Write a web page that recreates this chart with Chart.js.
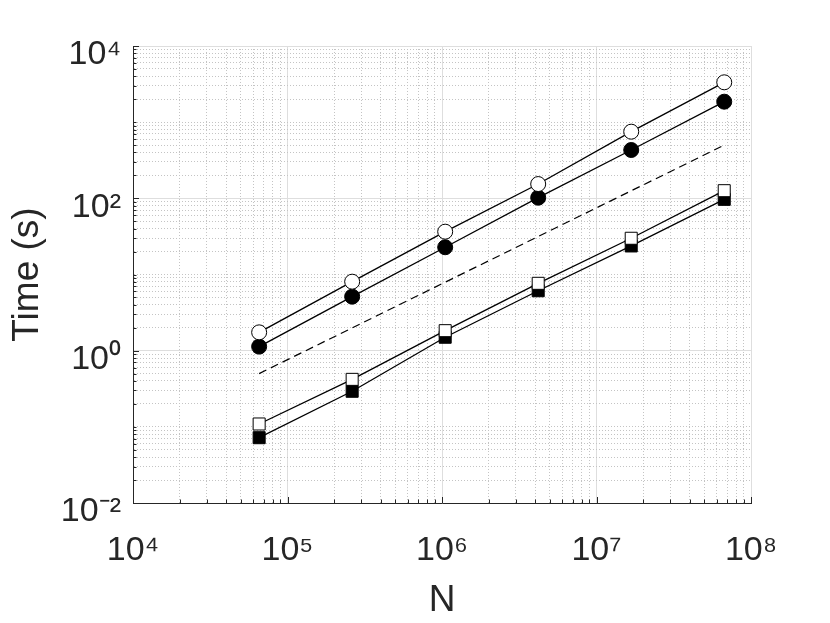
<!DOCTYPE html>
<html>
<head>
<meta charset="utf-8">
<script src="https://cdn.jsdelivr.net/npm/chart.js@4/dist/chart.umd.min.js"></script>
<style>
  html, body { margin: 0; padding: 0; background: #ffffff; }
  #wrap { width: 830px; height: 623px; position: relative; }
</style>
</head>
<body>
<div id="wrap"><canvas id="c"></canvas></div>
<script>
// ---- data ----
const N = [65536, 262144, 1048576, 4194304, 16777216, 67108864];
const openCircle   = [1.74, 8.05, 36.5, 154, 750, 3337];
const filledCircle = [1.13, 5.12, 22.8, 102, 431, 1857];
const openSquare   = [0.109, 0.42, 1.83, 7.66, 29.9, 126];
const filledSquare = [0.072, 0.293, 1.50, 6.12, 23.7, 97];
const refLineN = [65536, 67108864];
const refLineT = [0.5, 500];

// ---- axes / ticks ----
const xDecades = [4, 5, 6, 7, 8];
const yDecades = [-2, -1, 0, 1, 2, 3, 4];
const xMajorExp = [4, 5, 6, 7, 8];
const yMajorExp = [-2, 0, 2, 4];
const xTickLabels = ['10⁴', '10⁵', '10⁶', '10⁷', '10⁸'];
const yTickLabels = ['10⁻²', '10⁰', '10²', '10⁴'];
const minorMult = [2, 3, 4, 5, 6, 7, 8, 9];
const xTitle = 'N';
const yTitle = 'Time (s)';

const FONT = "'Liberation Sans', Arial, Helvetica, sans-serif";
const INK = '#262626';

function expOf(v) {
  const l = Math.log10(v);
  const r = Math.round(l);
  return Math.abs(l - r) < 1e-9 ? r : null;
}
function buildTickValues(decades) {
  const out = [];
  for (let i = 0; i < decades.length; i++) {
    const base = Math.pow(10, decades[i]);
    out.push(base);
    if (i < decades.length - 1) minorMult.forEach(m => out.push(m * base));
  }
  return out.sort((a, b) => a - b);
}
function isMajor(v, majors) {
  const e = expOf(v);
  return e !== null && majors.indexOf(e) >= 0;
}

function pts(xs, ys) { return xs.map((x, i) => ({ x: x, y: ys[i] })); }

const innerTicks = {
  id: 'innerTicks',
  afterDraw(chart) {
    const ctx = chart.ctx;
    const xs = chart.scales.x, ys = chart.scales.y;
    const area = chart.chartArea;
    ctx.save();
    ctx.strokeStyle = INK;
    ctx.lineWidth = 1;
    ctx.beginPath();
    xs.ticks.forEach(t => {
      const p = Math.round(xs.getPixelForValue(t.value)) + 0.5;
      const len = isMajor(t.value, xMajorExp) ? 6 : 3.5;
      ctx.moveTo(p, area.bottom);
      ctx.lineTo(p, area.bottom - len);
    });
    ys.ticks.forEach(t => {
      const p = Math.round(ys.getPixelForValue(t.value)) + 0.5;
      const len = isMajor(t.value, yMajorExp) ? 6 : 3.5;
      ctx.moveTo(area.left, p);
      ctx.lineTo(area.left + len, p);
    });
    ctx.stroke();
    ctx.restore();
  }
};

function gridColor(majors) {
  return c => (c.tick && isMajor(c.tick.value, majors)) ? '#dedede' : '#c4c4c4';
}
function gridDash(majors) {
  return c => (c.tick && !isMajor(c.tick.value, majors)) ? [1, 2] : [];
}

new Chart(document.getElementById('c'), {
  type: 'line',
  data: {
    datasets: [
      {
        data: pts(N, openCircle), order: 1,
        borderColor: '#000', borderWidth: 1.3,
        pointStyle: 'circle', pointRadius: 7.5, pointBorderWidth: 1,
        pointBackgroundColor: '#ffffff', pointBorderColor: '#000'
      },
      {
        data: pts(N, filledCircle), order: 2,
        borderColor: '#000', borderWidth: 1.3,
        pointStyle: 'circle', pointRadius: 7.5, pointBorderWidth: 1,
        pointBackgroundColor: '#000', pointBorderColor: '#000'
      },
      {
        data: pts(refLineN, refLineT), order: 3,
        borderColor: '#000', borderWidth: 1.2, borderDash: [8, 5],
        pointRadius: 0
      },
      {
        data: pts(N, openSquare), order: 4,
        borderColor: '#000', borderWidth: 1.3,
        pointStyle: 'rect', pointRadius: 8.5, pointBorderWidth: 1,
        pointBackgroundColor: '#ffffff', pointBorderColor: '#000'
      },
      {
        data: pts(N, filledSquare), order: 5,
        borderColor: '#000', borderWidth: 1.3,
        pointStyle: 'rect', pointRadius: 8.5, pointBorderWidth: 1,
        pointBackgroundColor: '#000', pointBorderColor: '#000'
      }
    ]
  },
  options: {
    responsive: true,
    maintainAspectRatio: false,
    animation: false,
    devicePixelRatio: 1,
    layout: { padding: { left: 0, right: 79, top: 46, bottom: 0 } },
    plugins: { legend: { display: false }, tooltip: { enabled: false } },
    elements: { line: { tension: 0, fill: false } },
    scales: {
      x: {
        type: 'logarithmic',
        position: 'bottom',
        min: Math.pow(10, xDecades[0]),
        max: Math.pow(10, xDecades[xDecades.length - 1]),
        afterBuildTicks: s => { s.ticks = buildTickValues(xDecades).map(v => ({ value: v })); },
        afterFit: s => { s.height = 120; },
        grid: { color: gridColor(xMajorExp), lineWidth: 1, drawTicks: false },
        border: { display: true, color: INK, width: 1, dash: gridDash(xMajorExp) },
        ticks: {
          autoSkip: false, maxRotation: 0, padding: 27,
          color: INK, font: { family: FONT, size: 34 },
          callback: v => {
            const e = expOf(v);
            const i = e === null ? -1 : xMajorExp.indexOf(e);
            return i >= 0 ? xTickLabels[i] : '';
          }
        },
        title: {
          display: true, text: xTitle, color: INK,
          font: { family: FONT, size: 37 }, padding: { top: 0, bottom: 0 }
        }
      },
      y: {
        type: 'logarithmic',
        position: 'left',
        min: Math.pow(10, yDecades[0]),
        max: Math.pow(10, yDecades[yDecades.length - 1]),
        afterBuildTicks: s => { s.ticks = buildTickValues(yDecades).map(v => ({ value: v })); },
        afterFit: s => { s.width = 133; },
        grid: { color: gridColor(yMajorExp), lineWidth: 1, drawTicks: false },
        border: { display: true, color: INK, width: 1, dash: gridDash(yMajorExp) },
        ticks: {
          autoSkip: false, padding: 12, labelOffset: 9,
          color: INK, font: { family: FONT, size: 34 },
          callback: v => {
            const e = expOf(v);
            const i = e === null ? -1 : yMajorExp.indexOf(e);
            return i >= 0 ? yTickLabels[i] : '';
          }
        },
        title: {
          display: true, text: yTitle, color: INK,
          font: { family: FONT, size: 37 }, padding: { top: 6, bottom: 0 }
        }
      }
    }
  },
  plugins: [innerTicks]
});
</script>
</body>
</html>
